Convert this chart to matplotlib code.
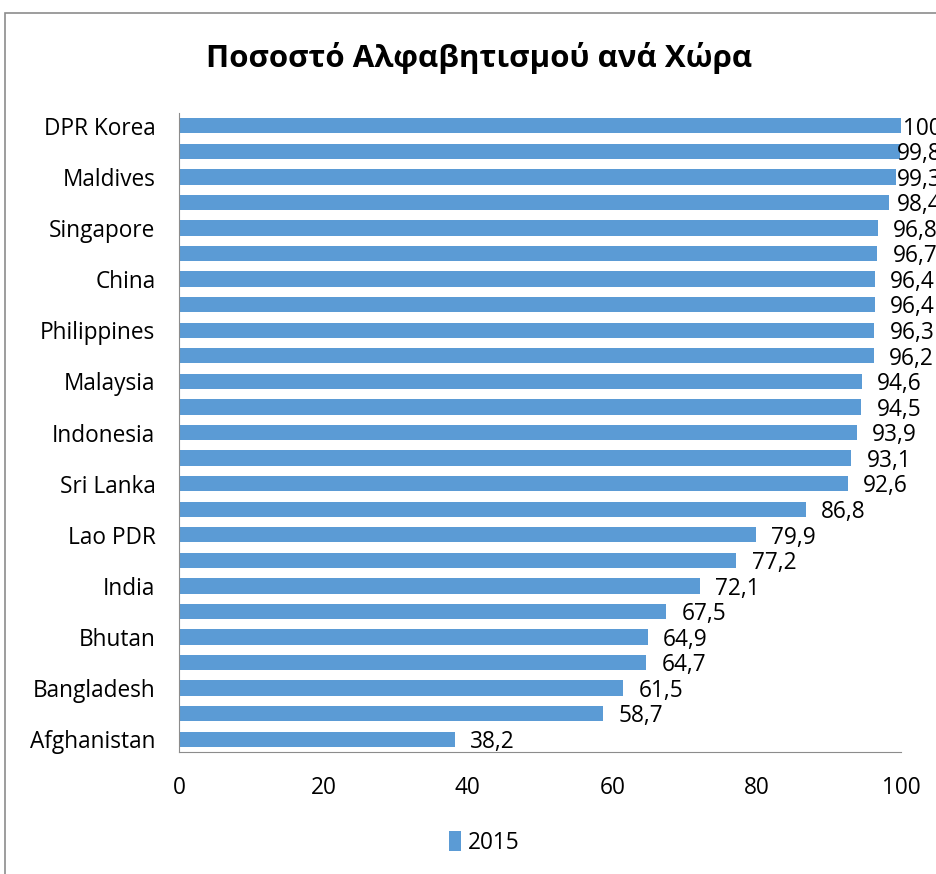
import matplotlib.pyplot as plt
from matplotlib.patches import Rectangle

# top to bottom, as in the chart (only every other label is shown)
countries = [
    "DPR Korea", "", "Maldives", "", "Singapore", "", "China", "",
    "Philippines", "", "Malaysia", "", "Indonesia", "", "Sri Lanka", "",
    "Lao PDR", "", "India", "", "Bhutan", "", "Bangladesh", "", "Afghanistan",
]
literacy = [
    100, 99.8, 99.3, 98.4, 96.8, 96.7, 96.4, 96.4, 96.3, 96.2,
    94.6, 94.5, 93.9, 93.1, 92.6, 86.8, 79.9, 77.2, 72.1, 67.5,
    64.9, 64.7, 61.5, 58.7, 38.2,
]
series_name = "2015"
xticks = [0, 20, 40, 60, 80, 100]

plt.rcParams['font.family'] = ['Open Sans', 'DejaVu Sans']
fs = 16.3

fig = plt.figure(figsize=(9.36, 8.74), dpi=100)
fig.patches.append(Rectangle((5 / 936, -0.1), 1.2, 1 - 13 / 874 + 0.1,
                             transform=fig.transFigure, fill=False,
                             edgecolor="#8c8c8c", linewidth=1.2))

ax = fig.add_axes([179 / 936, 1 - 752 / 874, 722 / 936, 639 / 874])
n = len(literacy)
ypos = list(range(n))[::-1]
bars = ax.barh(ypos, literacy, height=0.6, color="#5B9BD5", label=series_name)

labels = []
for y, v in zip(ypos, literacy):
    txt = f"{v:g}".replace(".", ",")
    t = ax.annotate(txt, (v, y), xytext=(11, -2), textcoords="offset points",
                    va="center", ha="left", fontsize=fs, annotation_clip=False)
    labels.append(t)

ax.set_xlim(0, 100)
ax.set_ylim(-0.5, n - 0.5)
ax.set_yticks(ypos)
ax.set_yticklabels(countries, fontsize=fs)
ax.set_xticks(xticks)
ax.set_xticklabels([str(t) for t in xticks], fontsize=fs)
ax.tick_params(axis="x", length=0, pad=17)
ax.tick_params(axis="y", length=0, pad=17)
for s in ["top", "right"]:
    ax.spines[s].set_visible(False)
ax.spines["left"].set_color("#8c8c8c")
ax.spines["bottom"].set_color("#8c8c8c")

fig.text(479 / 936, 1 - 58 / 874, "Ποσοστό Αλφαβητισμού ανά Χώρα",
         ha="center", va="center", fontsize=22.5, fontweight="bold")

fig.legend(handles=[bars], labels=[series_name], loc="center",
           bbox_to_anchor=(484 / 936, 1 - 843 / 874), frameon=False,
           fontsize=fs, handlelength=0.55, handleheight=1.0, handletextpad=0.3)

# like the source chart, labels that would run past the chart edge are pulled back
fig.canvas.draw()
renderer = fig.canvas.get_renderer()
limit = 942
for t in labels:
    bb = t.get_window_extent(renderer)
    if bb.x1 > limit:
        dx = (bb.x1 - limit) * 72 / fig.dpi
        x0, y0 = t.xyann
        t.xyann = (x0 - dx, y0)

fig.savefig("out.png", dpi=100)
